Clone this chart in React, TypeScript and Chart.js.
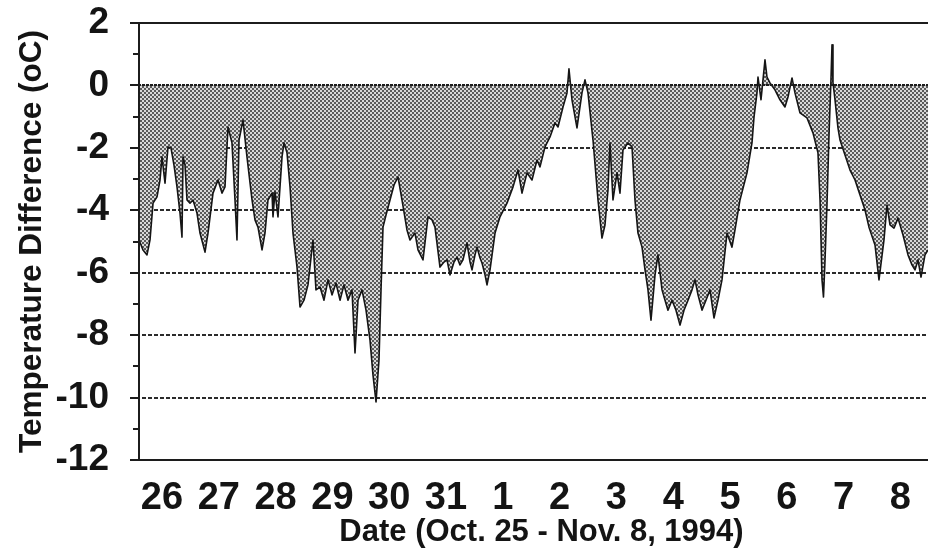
import React, { useEffect, useRef } from "react";
import { Chart, registerables } from "chart.js";

Chart.register(...registerables);

// Day tick labels (ticks sit at the middle of each day; x = days since Oct 26 00:00)
const dayLabels = ["26", "27", "28", "29", "30", "31", "1", "2", "3", "4", "5", "6", "7", "8"];
const dayTickPositions = [0.5, 1.5, 2.5, 3.5, 4.5, 5.5, 6.5, 7.5, 8.5, 9.5, 10.5, 11.5, 12.5, 13.5];

const yMajorTicks = [2, 0, -2, -4, -6, -8, -10, -12];
const yMinorTicks = [1, -1, -3, -5, -7, -9, -11];
const dashedGridValues = [-2, -4, -6, -8, -10];

const xTitle = "Date (Oct. 25 - Nov. 8, 1994)";
const yTitle = "Temperature Difference (oC)";

// Time (days since Oct 26 00:00)
const times = [
  0.095, 0.165, 0.236, 0.289, 0.342, 0.412, 0.465, 0.5, 0.553, 0.606, 0.658, 0.711, 0.764, 0.817, 0.852, 0.87,
  0.905, 0.94, 0.993, 1.046, 1.116, 1.169, 1.257, 1.31, 1.398, 1.486, 1.556, 1.609, 1.662, 1.732, 1.785, 1.82,
  1.856, 1.926, 1.996, 2.085, 2.137, 2.19, 2.261, 2.313, 2.366, 2.437, 2.454, 2.489, 2.542, 2.613, 2.648, 2.701,
  2.754, 2.806, 2.877, 2.93, 3.0, 3.07, 3.158, 3.211, 3.282, 3.352, 3.423, 3.493, 3.563, 3.634, 3.704, 3.775,
  3.845, 3.898, 3.951, 4.021, 4.092, 4.162, 4.215, 4.268, 4.32, 4.356, 4.391, 4.444, 4.514, 4.585, 4.655, 4.725,
  4.813, 4.866, 4.954, 5.007, 5.095, 5.183, 5.254, 5.306, 5.394, 5.465, 5.518, 5.57, 5.641, 5.694, 5.746, 5.799,
  5.87, 5.923, 5.958, 6.011, 6.046, 6.099, 6.134, 6.187, 6.222, 6.275, 6.363, 6.451, 6.574, 6.68, 6.768, 6.838,
  6.926, 7.014, 7.102, 7.155, 7.243, 7.331, 7.419, 7.472, 7.56, 7.63, 7.665, 7.718, 7.806, 7.894, 7.947, 8.0,
  8.088, 8.176, 8.246, 8.299, 8.352, 8.387, 8.44, 8.511, 8.563, 8.616, 8.704, 8.775, 8.827, 8.88, 8.951, 9.004,
  9.056, 9.109, 9.18, 9.232, 9.303, 9.356, 9.408, 9.479, 9.549, 9.62, 9.69, 9.761, 9.831, 9.884, 9.937, 10.007,
  10.077, 10.148, 10.218, 10.289, 10.359, 10.447, 10.535, 10.588, 10.676, 10.799, 10.887, 10.923, 10.975, 10.993, 11.046, 11.081,
  11.116, 11.151, 11.204, 11.292, 11.38, 11.468, 11.521, 11.592, 11.644, 11.732, 11.856, 11.961, 12.049, 12.085, 12.12, 12.146,
  12.173, 12.208, 12.243, 12.278, 12.296, 12.313, 12.349, 12.401, 12.437, 12.525, 12.613, 12.701, 12.789, 12.877, 12.947, 13.053,
  13.123, 13.211, 13.264, 13.317, 13.387, 13.458, 13.546, 13.634, 13.704, 13.757, 13.81, 13.863, 13.933, 13.986,
];

// Temperature difference (°C)
const tempDiff = [
  -4.95, -5.27, -5.43, -4.95, -3.77, -3.57, -3.03, -2.29, -3.13, -1.97, -2.0, -2.55, -3.25, -4.09, -4.86, -2.29,
  -2.55, -3.67, -3.77, -3.67, -4.09, -4.73, -5.34, -4.73, -3.45, -3.03, -3.45, -3.25, -1.33, -1.84, -3.67, -4.95,
  -1.75, -1.11, -2.29, -3.67, -4.31, -4.54, -5.27, -4.73, -3.67, -3.45, -4.21, -3.41, -4.21, -2.29, -1.84, -2.16,
  -3.25, -4.73, -5.82, -7.1, -6.88, -6.39, -4.95, -6.55, -6.46, -6.88, -6.23, -6.71, -6.33, -6.88, -6.39, -6.88,
  -6.55, -8.57, -6.88, -6.55, -7.2, -8.16, -9.28, -10.14, -8.8, -6.55, -4.54, -4.15, -3.67, -3.19, -2.93, -3.67,
  -4.63, -4.95, -4.73, -5.27, -5.59, -4.21, -4.31, -4.54, -5.82, -5.66, -5.59, -6.07, -5.66, -5.5, -5.75, -5.59,
  -5.05, -5.66, -5.91, -5.43, -5.18, -5.53, -5.69, -6.07, -6.39, -5.91, -4.73, -4.21, -3.77, -3.25, -2.71, -3.45,
  -2.8, -3.03, -2.39, -2.61, -1.97, -1.65, -1.2, -1.33, -0.69, -0.24, 0.53, -0.46, -1.36, -0.24, 0.18, -0.24,
  -1.75, -3.67, -4.89, -4.47, -3.35, -1.84, -3.67, -2.8, -3.45, -2.07, -1.84, -1.97, -3.67, -4.73, -5.18, -5.91,
  -6.55, -7.52, -6.07, -5.43, -6.55, -6.88, -7.2, -6.88, -7.2, -7.68, -7.2, -6.88, -6.55, -6.23, -6.71, -7.2,
  -6.88, -6.55, -7.45, -6.88, -6.23, -4.73, -5.18, -4.63, -3.67, -2.8, -1.84, -1.01, -0.24, 0.27, -0.46, 0.18,
  0.82, 0.27, 0.08, -0.14, -0.46, -0.69, -0.37, 0.24, -0.24, -0.88, -1.04, -1.52, -2.16, -3.67, -6.23, -6.78,
  -5.6, -3.8, -1.6, 0.2, 1.3, 0.1, -0.46, -1.36, -1.75, -2.23, -2.71, -3.03, -3.51, -3.99, -4.54, -5.11,
  -6.23, -4.95, -3.83, -4.47, -4.57, -4.25, -4.79, -5.43, -5.75, -5.91, -5.59, -6.14, -5.43, -5.27,
];

const FONT = "'Liberation Sans', Arial, Helvetica, sans-serif";
const INK = "#141414";

const axisDecor = {
  id: "axisDecor",
  beforeDatasetsDraw(chart: any) {
    const { ctx, chartArea, scales } = chart;
    const y = scales.y;
    ctx.save();
    ctx.strokeStyle = "#2b2b2b";
    ctx.lineWidth = 2;
    ctx.setLineDash([4, 2]);
    for (const v of dashedGridValues) {
      const py = Math.round(y.getPixelForValue(v));
      ctx.beginPath();
      ctx.moveTo(chartArea.left - 9, py);
      ctx.lineTo(chartArea.right, py);
      ctx.stroke();
    }
    ctx.restore();
  },
  afterDatasetsDraw(chart: any) {
    const { ctx, chartArea, scales } = chart;
    const y = scales.y;
    const L = chartArea.left;
    const R = chartArea.right;
    ctx.save();
    ctx.strokeStyle = "#1c1c1c";
    ctx.lineWidth = 2;
    // zero line
    ctx.setLineDash([3, 1]);
    const p0 = Math.round(y.getPixelForValue(0));
    ctx.beginPath();
    ctx.moveTo(L - 9, p0);
    ctx.lineTo(R, p0);
    ctx.stroke();
    ctx.setLineDash([]);
    // top border and bottom axis
    const pTop = Math.round(y.getPixelForValue(2));
    const pBot = Math.round(y.getPixelForValue(-12));
    ctx.beginPath();
    ctx.moveTo(L - 9, pTop);
    ctx.lineTo(R, pTop);
    ctx.moveTo(L - 9, pBot);
    ctx.lineTo(R, pBot);
    ctx.stroke();
    // left axis
    ctx.beginPath();
    ctx.moveTo(L, pTop);
    ctx.lineTo(L, pBot);
    ctx.stroke();
    // major ticks
    ctx.beginPath();
    for (const v of yMajorTicks) {
      const py = Math.round(y.getPixelForValue(v));
      ctx.moveTo(L - 9, py);
      ctx.lineTo(L, py);
    }
    ctx.stroke();
    // minor ticks
    ctx.beginPath();
    for (const v of yMinorTicks) {
      const py = Math.round(y.getPixelForValue(v));
      ctx.moveTo(L - 6, py);
      ctx.lineTo(L, py);
    }
    ctx.stroke();
    // x-axis title (slightly right of the plot centre, as in the original)
    ctx.fillStyle = INK;
    ctx.font = `bold 31px ${FONT}`;
    ctx.textAlign = "center";
    ctx.textBaseline = "middle";
    ctx.fillText(xTitle, (L + R) / 2 + 8, 532);
    ctx.restore();
  },
};

export default function App() {
  const ref = useRef<HTMLCanvasElement>(null);

  useEffect(() => {
    document.body.style.margin = "0";
    const canvas = ref.current!;
    const tile = document.createElement("canvas");
    tile.width = 4;
    tile.height = 4;
    const tctx = tile.getContext("2d")!;
    tctx.fillStyle = "#d8d8d8";
    tctx.fillRect(0, 0, 4, 4);
    tctx.fillStyle = "#5a5a5a";
    tctx.fillRect(0, 0, 2, 2);
    tctx.fillRect(2, 2, 2, 2);
    const pattern = canvas.getContext("2d")!.createPattern(tile, "repeat");

    const points = times.map((t, i) => ({ x: t, y: tempDiff[i] }));

    const chart = new Chart(canvas, {
      type: "line",
      data: {
        datasets: [
          {
            data: points,
            borderColor: "#151515",
            borderWidth: 1.6,
            borderJoinStyle: "round",
            backgroundColor: pattern as any,
            fill: "origin",
            pointRadius: 0,
            tension: 0,
          },
        ],
      },
      options: {
        animation: false,
        responsive: false,
        maintainAspectRatio: false,
        layout: { padding: { top: 23, left: 0, right: 0, bottom: 0 } },
        plugins: {
          legend: { display: false },
          tooltip: { enabled: false },
        },
        scales: {
          x: {
            type: "linear",
            min: 0.095,
            max: 13.986,
            grid: { display: false },
            border: { display: false },
            afterBuildTicks: (axis: any) => {
              axis.ticks = dayTickPositions.map((v) => ({ value: v }));
            },
            afterFit: (scale: any) => {
              scale.height = 88;
              scale.paddingLeft = 0;
              scale.paddingRight = 0;
            },
            ticks: {
              autoSkip: false,
              maxRotation: 0,
              minRotation: 0,
              padding: 8,
              color: INK,
              font: { family: FONT, size: 38, weight: "bold" },
              callback: (_v: any, i: number) => dayLabels[i],
            },
            title: { display: false },
          },
          y: {
            type: "linear",
            min: -12,
            max: 2,
            grid: { display: false },
            border: { display: false },
            afterFit: (scale: any) => {
              scale.width = 139;
              scale.paddingTop = 0;
              scale.paddingBottom = 0;
            },
            afterBuildTicks: (axis: any) => {
              axis.ticks = yMajorTicks.map((v) => ({ value: v }));
            },
            ticks: {
              padding: 22,
              color: INK,
              font: { family: FONT, size: 37, weight: "bold" },
              callback: (v: any) => String(v),
            },
            title: {
              display: true,
              text: yTitle,
              color: INK,
              font: { family: FONT, size: 31.5, weight: "bold" },
              padding: { top: 13, bottom: 0 },
            },
          },
        },
      },
      plugins: [axisDecor],
    });
    return () => chart.destroy();
  }, []);

  return (
    <div style={{ position: "absolute", left: 0, top: 0, width: 928, height: 548, background: "#fff" }}>
      <canvas ref={ref} width={928} height={548} style={{ display: "block", width: 928, height: 548 }} />
    </div>
  );
}
